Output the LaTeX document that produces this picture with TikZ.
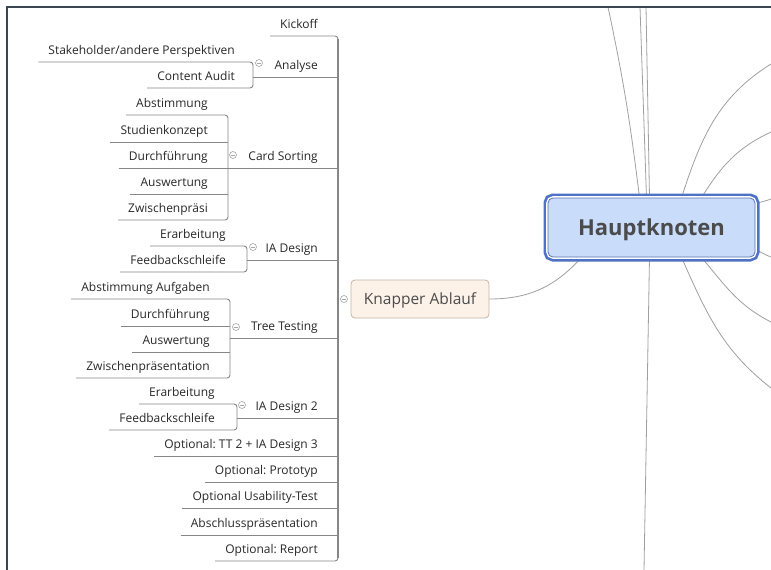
\documentclass[tikz,border=0pt]{standalone}
\usepackage{fontspec}
\setmainfont{Open Sans}
\frenchspacing
\usetikzlibrary{backgrounds,calc}
\definecolor{ln}{RGB}{135,135,135}
\definecolor{cl}{RGB}{165,165,165}
\definecolor{cv}{RGB}{160,160,160}
\definecolor{txt}{RGB}{40,40,40}
\definecolor{htxt}{RGB}{75,75,75}
\definecolor{hkfill}{RGB}{201,220,250}
\definecolor{hkblue}{RGB}{78,115,198}
\definecolor{hkin}{RGB}{90,115,175}
\definecolor{kfill}{RGB}{253,242,232}
\definecolor{kdraw}{RGB}{195,180,165}
\definecolor{frm}{RGB}{60,70,80}
\begin{document}
\begin{tikzpicture}[x=1pt,y=1pt,
 topic/.style={font=\fontsize{12}{14}\selectfont, text=txt, anchor=south east, inner xsep=10pt, inner ysep=0pt, text height=8.5pt, text depth=7pt},
 ul/.style={draw=ln, line width=0.9pt},
 brk/.style={draw=ln, line width=0.9pt, rounded corners=3pt},
 vbar/.style={draw=ln, line width=1.5pt},
 coll/.style={circle, draw=cl, line width=0.6pt, minimum size=7pt, inner sep=0pt, fill=white,
   path picture={\draw[cl, line width=0.6pt] ([xshift=-2pt]path picture bounding box.center) -- ([xshift=2pt]path picture bounding box.center);}},
 curve/.style={draw=cv, line width=0.8pt},
 hkstyle/.style={rounded corners=5pt, minimum width=207pt, minimum height=59pt, fill=hkfill, draw=hkin, line width=0.8pt,
   font=\bfseries\fontsize{22}{26}\selectfont, text=htxt, text height=15.5pt, text depth=0.5pt,
   preaction={draw=hkblue, line width=9pt, rounded corners=5pt},
   preaction={draw=white, line width=3.6pt, rounded corners=5pt}},
 knstyle/.style={rounded corners=4pt, minimum width=138pt, minimum height=38pt, fill=kfill, draw=kdraw, line width=0.8pt,
   font=\fontsize{15.5}{18}\selectfont, text=htxt, text height=11pt, text depth=1pt},
]
\useasboundingbox (0,0) rectangle (771,-570);

% bracket coordinates
\coordinate (bk) at (338,0);
\coordinate (ban) at (253,0);
\coordinate (bcs) at (228,0);
\coordinate (bia) at (247,0);
\coordinate (btt) at (230,0);
\coordinate (bia2) at (237,0);

% central nodes
\node[hkstyle] (hk) at (651.5,-227.5) {Hauptknoten};
\node[knstyle] (k) at (420,-299) {Knapper Ablauf};

% main children
\node[topic] (kick) at (328,-36) {Kickoff};
\node[topic] (an) at (328,-77) {Analyse};
\node[topic] (cs) at (328,-168) {Card Sorting};
\node[topic] (ia) at (328,-260) {IA Design};
\node[topic] (tt) at (328,-338) {Tree Testing};
\node[topic] (ia2) at (328,-418) {IA Design 2};
\node[topic] (ott) at (328,-456) {Optional: TT 2 + IA Design 3};
\node[topic] (op) at (328,-482) {Optional: Prototyp};
\node[topic] (ou) at (328,-508) {Optional Usability-Test};
\node[topic] (ab) at (328,-535) {Abschlusspräsentation};
\node[topic] (rep) at (328,-561) {Optional: Report};

% Analyse children
\node[topic] (sh) at (245,-62) {Stakeholder/andere Perspektiven};
\node[topic] (ca) at (245,-88) {Content Audit};
% Card Sorting children
\node[topic] (ab1) at (218,-115) {Abstimmung};
\node[topic] (sk) at (218,-142) {Studienkonzept};
\node[topic] (df1) at (218,-168) {Durchführung};
\node[topic] (aw1) at (218,-194) {Auswertung};
\node[topic] (zp1) at (218,-220) {Zwischenpräsi};
% IA Design children
\node[topic] (er1) at (236,-246) {Erarbeitung};
\node[topic] (fb1) at (236,-272) {Feedbackschleife};
% Tree Testing children
\node[topic] (aa) at (220,-299) {Abstimmung Aufgaben};
\node[topic] (df2) at (220,-326) {Durchführung};
\node[topic] (aw2) at (220,-352) {Auswertung};
\node[topic] (zp2) at (220,-378) {Zwischenpräsentation};
% IA Design 2 children
\node[topic] (er2) at (225,-404) {Erarbeitung};
\node[topic] (fb2) at (225,-430) {Feedbackschleife};

% free ends of the connectors of Hauptknoten
\coordinate (t1) at (608,-7);
\coordinate (t2) at (640,-7);
\coordinate (t3) at (646,-7);
\coordinate (t4) at (771,-64);
\coordinate (t5) at (771,-132);
\coordinate (r1) at (771,-199);
\coordinate (r2) at (771,-257);
\coordinate (b1) at (644,-570);
\coordinate (b2) at (771,-388);
\coordinate (b3) at (771,-322);

\begin{scope}[on background layer]
 \fill[white] (0,0) rectangle (771,-570);
 \draw[curve] (k.east) to[out=0, in=228] ([xshift=-70pt]hk.south);
 \draw[curve] ([xshift=-12pt]hk.north) to[out=97, in=-78] (t1);
 \draw[curve] ([xshift=-5pt]hk.north) -- (t2);
 \draw[curve] ([xshift=-2pt]hk.north) -- (t3);
 \draw[curve] ([xshift=30pt]hk.north) to[out=72, in=212] (t4);
 \draw[curve] ([xshift=50pt]hk.north) to[out=58, in=205] (t5);
 \draw[curve] ([yshift=24pt]hk.east) to[out=15, in=200] (r1);
 \draw[curve] ([yshift=-22pt]hk.east) to[out=-25, in=160] (r2);
 \draw[curve] ([xshift=-2pt]hk.south) -- (b1);
 \draw[curve] ([xshift=30pt]hk.south) to[out=-66, in=142] (b2);
 \draw[curve] ([xshift=50pt]hk.south) to[out=-50, in=153] (b3);
\end{scope}

% main bracket
\draw[brk] (kick.south west) -- (kick.south -| bk) -- (rep.south -| bk) -- (rep.south west);
\draw[vbar] ($(kick.south -| bk)+(0,-3)$) -- ($(rep.south -| bk)+(0,3)$);
\draw[ul] (an.south -| ban) -- (an.south -| bk);
\draw[ul] (cs.south -| bcs) -- (cs.south -| bk);
\draw[ul] (ia.south -| bia) -- (ia.south -| bk);
\draw[ul] (tt.south -| btt) -- (tt.south -| bk);
\draw[ul] (ia2.south -| bia2) -- (ia2.south -| bk);
\draw[ul] (ott.south west) -- (ott.south -| bk);
\draw[ul] (op.south west) -- (op.south -| bk);
\draw[ul] (ou.south west) -- (ou.south -| bk);
\draw[ul] (ab.south west) -- (ab.south -| bk);

% Analyse bracket
\draw[brk] (sh.south west) -- (sh.south -| ban) -- (ca.south -| ban) -- (ca.south west);
% Card Sorting bracket
\draw[brk] (ab1.south west) -- (ab1.south -| bcs) -- (zp1.south -| bcs) -- (zp1.south west);
\draw[ul] (sk.south west) -- (sk.south -| bcs);
\draw[ul] (df1.south west) -- (df1.south -| bcs);
\draw[ul] (aw1.south west) -- (aw1.south -| bcs);
% IA Design bracket
\draw[brk] (er1.south west) -- (er1.south -| bia) -- (fb1.south -| bia) -- (fb1.south west);
% Tree Testing bracket
\draw[brk] (aa.south west) -- (aa.south -| btt) -- (zp2.south -| btt) -- (zp2.south west);
\draw[ul] (df2.south west) -- (df2.south -| btt);
\draw[ul] (aw2.south west) -- (aw2.south -| btt);
% IA Design 2 bracket
\draw[brk] (er2.south west) -- (er2.south -| bia2) -- (fb2.south -| bia2) -- (fb2.south west);

% collapse markers
\node[coll] (c1) at (259,-63) {};
\node[coll] (c2) at (233,-155) {};
\node[coll] (c3) at (253,-247) {};
\node[coll] (c4) at (236,-327) {};
\node[coll] (c5) at (242,-405) {};
\node[coll] (c6) at (344,-299) {};

% frame
\draw[frm, line width=1.3pt] (7,-570) -- (7,-7) -- (771,-7);
\end{tikzpicture}
\end{document}
